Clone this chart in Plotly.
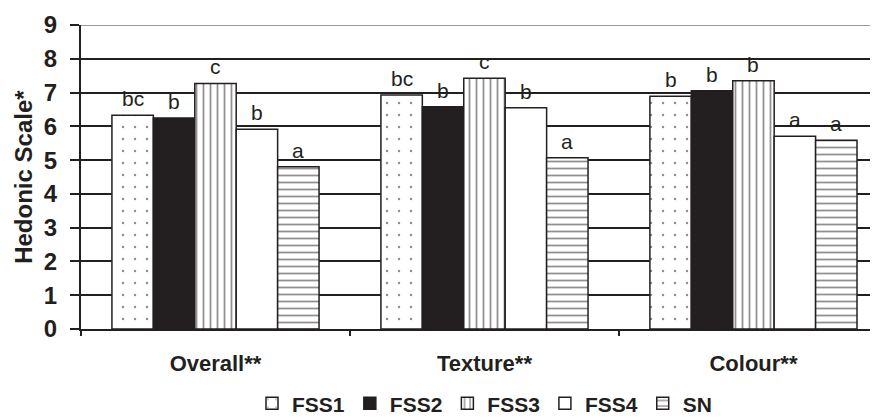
import plotly.graph_objects as go

categories = ["Overall**", "Texture**", "Colour**"]
series_names = ["FSS1", "FSS2", "FSS3", "FSS4", "SN"]
values = {
    "FSS1": [6.33, 6.93, 6.89],
    "FSS2": [6.25, 6.58, 7.05],
    "FSS3": [7.27, 7.42, 7.35],
    "FSS4": [5.91, 6.55, 5.71],
    "SN":   [4.80, 5.07, 5.59],
}
letters = {
    "FSS1": ["bc", "bc", "b"],
    "FSS2": ["b", "b", "b"],
    "FSS3": ["c", "c", "b"],
    "FSS4": ["b", "b", "a"],
    "SN":   ["a", "a", "a"],
}
y_ticks = [0, 1, 2, 3, 4, 5, 6, 7, 8, 9]

BLACK = "#231f20"
styles = {
    "FSS1": dict(color="white", pattern=dict(shape=".", fgcolor=BLACK, bgcolor="white", size=12, solidity=0.035)),
    "FSS2": dict(color=BLACK),
    "FSS3": dict(color="white", pattern=dict(shape="|", fgcolor=BLACK, bgcolor="white", size=7, solidity=0.25)),
    "FSS4": dict(color="white"),
    "SN":   dict(color="white", pattern=dict(shape="-", fgcolor=BLACK, bgcolor="white", size=7, solidity=0.25)),
}

FONT = "Liberation Sans"

fig = go.Figure()
for i, name in enumerate(series_names):
    fig.add_trace(go.Bar(
        name=name,
        x=categories,
        y=values[name],
        marker=dict(line=dict(color=BLACK, width=1.5), **styles[name]),
        offsetgroup=str(i),
    ))

# letters above bars
n = len(series_names)
bargap = 0.23
group_w = 1 - bargap
bar_w = group_w / n
for i, name in enumerate(series_names):
    for j, cat in enumerate(categories):
        xc = j - group_w / 2 + bar_w * (i + 0.5)
        fig.add_annotation(
            x=xc, y=values[name][j], xref="x", yref="y",
            text=letters[name][j], showarrow=False,
            yanchor="bottom", yshift=3,
            font=dict(family=FONT, size=21, color=BLACK),
        )

# y title
fig.add_annotation(
    x=-0.073, y=0.5, xref="paper", yref="paper",
    text="<b>Hedonic Scale*</b>", textangle=-90, showarrow=False,
    xanchor="center", yanchor="middle", borderpad=0,
    font=dict(family=FONT, size=24, color=BLACK),
)

# top line (gray)
fig.add_shape(type="line", xref="paper", yref="y", x0=0, x1=1, y0=9, y1=9,
              line=dict(color="#999999", width=2), layer="above")

# page body has an 8px margin: figure is 870x410 so it fits the 878x418 window
fig.update_layout(
    width=870, height=410,
    margin=dict(l=73, r=0, t=17, b=89),
    paper_bgcolor="white", plot_bgcolor="white",
    barmode="group", bargap=bargap, bargroupgap=0,
    showlegend=True,
    legend=dict(
        orientation="h", xref="container", yref="container",
        x=0.5477, xanchor="center", y=0.035, yanchor="middle",
        font=dict(family=FONT, size=21, color=BLACK, weight="bold"),
        itemwidth=30, tracegroupgap=0,
    ),
    xaxis=dict(
        type="category", range=[-0.5, 2.463], automargin=False,
        showline=True, linecolor=BLACK, linewidth=2,
        ticks="outside", tickson="boundaries", ticklen=5, tickwidth=2, tickcolor=BLACK,
        ticklabelstandoff=14,
        showgrid=False, zeroline=False,
        tickfont=dict(family=FONT, size=22, color=BLACK, weight="bold"),
    ),
    yaxis=dict(
        range=[0, 9], tickvals=y_ticks, automargin=False,
        showline=True, linecolor=BLACK, linewidth=2,
        ticks="outside", ticklen=9, tickwidth=2, tickcolor=BLACK,
        ticklabelstandoff=8,
        showgrid=True, gridcolor=BLACK, gridwidth=1.5, zeroline=False,
        tickfont=dict(family=FONT, size=24, color=BLACK, weight="bold"),
    ),
)

fig.write_html("out.html")
